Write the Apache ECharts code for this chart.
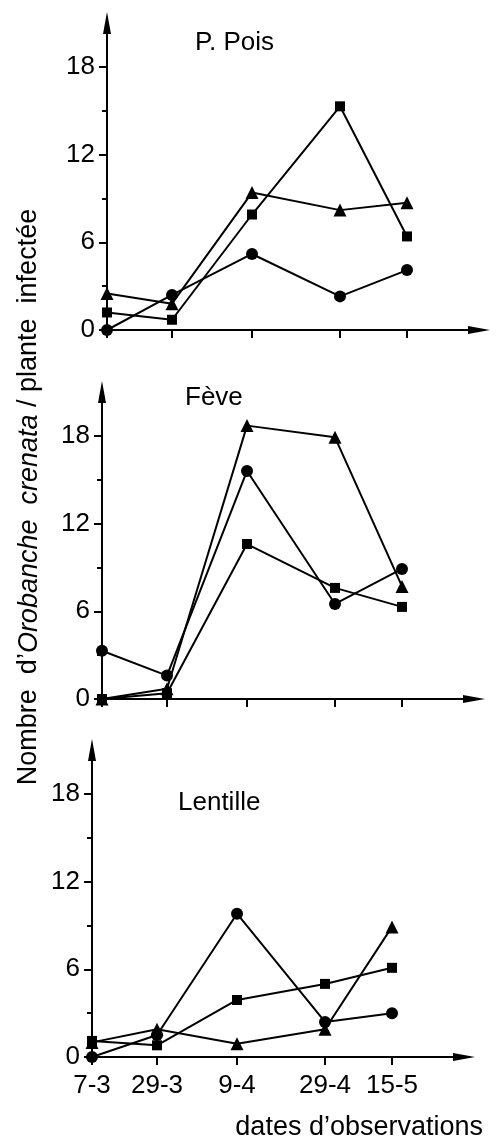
<!DOCTYPE html>
<html>
<head>
<meta charset="utf-8">
<script src="https://cdn.jsdelivr.net/npm/echarts@6.0.0/dist/echarts.min.js"></script>
<style>
html, body { margin: 0; padding: 0; background: #fff; }
#main { width: 497px; height: 1145px; }
</style>
</head>
<body>
<div id="main"></div>
<script>
// dates d'observation, and where each one sits along the drawn x axis
var dates = ['7-3', '29-3', '9-4', '29-4', '15-5'];
var datePos = [0, 6.5, 14.5, 23.3, 30];
var yTicks = [0, 6, 12, 18];
var yMinorTicks = [3, 9, 15];

var panelNames = ['P. Pois', 'Fève', 'Lentille'];

// P. Pois
var poisCircle = [0, 2.4, 5.2, 2.3, 4.1];
var poisSquare = [1.2, 0.7, 7.9, 15.3, 6.4];
var poisTriangle = [2.5, 1.8, 9.4, 8.2, 8.7];
// Fève
var feveCircle = [3.3, 1.6, 15.6, 6.5, 8.9];
var feveSquare = [0, 0.4, 10.6, 7.6, 6.3];
var feveTriangle = [0, 0.7, 18.7, 17.9, 7.7];
// Lentille
var lentCircle = [0, 1.5, 9.8, 2.4, 3.0];
var lentSquare = [1.1, 0.8, 3.9, 5.0, 6.1];
var lentTriangle = [1.0, 1.9, 0.9, 1.9, 8.9];

var panelData = [
    [poisCircle, poisSquare, poisTriangle],
    [feveCircle, feveSquare, feveTriangle],
    [lentCircle, lentSquare, lentTriangle]
];
var symbols = ['circle', 'rect', 'triangle'];
var symbolSizes = [12, 10, 13];

// layout of the three stacked panels (hand drawn, so the y axes drift a bit)
var gridLeft = [107, 102, 92];
var gridTop = [23, 392, 750];
var gridH = 307;
var gridW = 372;
var xMax = 37.2;
var yMax = 21;

var font = "'Liberation Sans', Arial, sans-serif";

function pairs(vals) {
    var out = [];
    for (var i = 0; i < vals.length; i++) {
        out.push([datePos[i], vals[i]]);
    }
    return out;
}

var chart = echarts.init(document.getElementById('main'));
var grids = [], xAxes = [], yAxes = [], series = [], graphics = [];

for (var p = 0; p < 3; p++) {
    grids.push({ left: gridLeft[p], top: gridTop[p], width: gridW, height: gridH });

    xAxes.push({
        type: 'value',
        gridIndex: p,
        min: 0,
        max: xMax,
        splitLine: { show: false },
        axisLine: {
            show: true,
            onZero: false,
            lineStyle: { color: '#000', width: 2 },
            symbol: ['none', 'triangle'],
            symbolSize: [8, 22]
        },
        axisTick: {
            show: true,
            customValues: datePos,
            length: 8,
            lineStyle: { color: '#000', width: 2 }
        },
        axisLabel: {
            show: p == 2,
            customValues: datePos,
            margin: 16,
            color: '#000',
            fontSize: 26,
            fontFamily: font,
            formatter: function (v) {
                var i = datePos.indexOf(v);
                return i >= 0 ? dates[i] : '';
            }
        }
    });

    // main y axis with 0 / 6 / 12 / 18
    yAxes.push({
        type: 'value',
        gridIndex: p,
        position: 'left',
        min: 0,
        max: yMax,
        splitLine: { show: false },
        axisLine: {
            show: true,
            onZero: false,
            lineStyle: { color: '#000', width: 2 },
            symbol: ['none', 'triangle'],
            symbolSize: [8, 22]
        },
        axisTick: {
            show: true,
            customValues: yTicks,
            length: 8,
            lineStyle: { color: '#000', width: 2 }
        },
        axisLabel: {
            customValues: yTicks,
            margin: 12,
            color: '#000',
            fontSize: 26,
            fontFamily: font
        }
    });
    // small ticks in between
    yAxes.push({
        type: 'value',
        gridIndex: p,
        position: 'left',
        min: 0,
        max: yMax,
        splitLine: { show: false },
        axisLine: { show: false, onZero: false },
        axisTick: {
            show: true,
            inside: false,
            customValues: yMinorTicks,
            length: 5,
            lineStyle: { color: '#000', width: 2 }
        },
        axisLabel: { show: false }
    });

    for (var s = 0; s < 3; s++) {
        series.push({
            type: 'line',
            xAxisIndex: p,
            yAxisIndex: p * 2,
            data: pairs(panelData[p][s]),
            symbol: symbols[s],
            symbolSize: symbolSizes[s],
            showSymbol: true,
            showAllSymbol: true,
            lineStyle: { color: '#000', width: 2 },
            itemStyle: { color: '#000' },
            z: 3
        });
    }

    graphics.push({
        type: 'text',
        x: [195, 185, 178][p],
        y: [43, 398, 803][p],
        style: {
            text: panelNames[p],
            fill: '#000',
            font: '26px ' + font,
            verticalAlign: 'middle'
        }
    });
}

// y axis title, running bottom to top along the left edge
graphics.push({
    type: 'text',
    x: 29,
    y: 497,
    rotation: Math.PI / 2,
    style: {
        text: '{a|Nombre  d\u2019}{b|Orobanche  crenata}{a| / plante  infectée}',
        align: 'center',
        verticalAlign: 'middle',
        fill: '#000',
        rich: {
            a: { fontSize: 27, fontFamily: font, fill: '#000' },
            b: { fontSize: 27, fontFamily: font, fontStyle: 'italic', fill: '#000' }
        }
    }
});

// x axis title under the dates
graphics.push({
    type: 'text',
    x: 483,
    y: 1128,
    style: {
        text: 'dates d\u2019observations',
        fill: '#000',
        font: '27px ' + font,
        align: 'right',
        verticalAlign: 'middle'
    }
});

var option = {
    backgroundColor: '#fff',
    animation: false,
    grid: grids,
    xAxis: xAxes,
    yAxis: yAxes,
    series: series,
    graphic: graphics
};

option && chart.setOption(option);
</script>
</body>
</html>
